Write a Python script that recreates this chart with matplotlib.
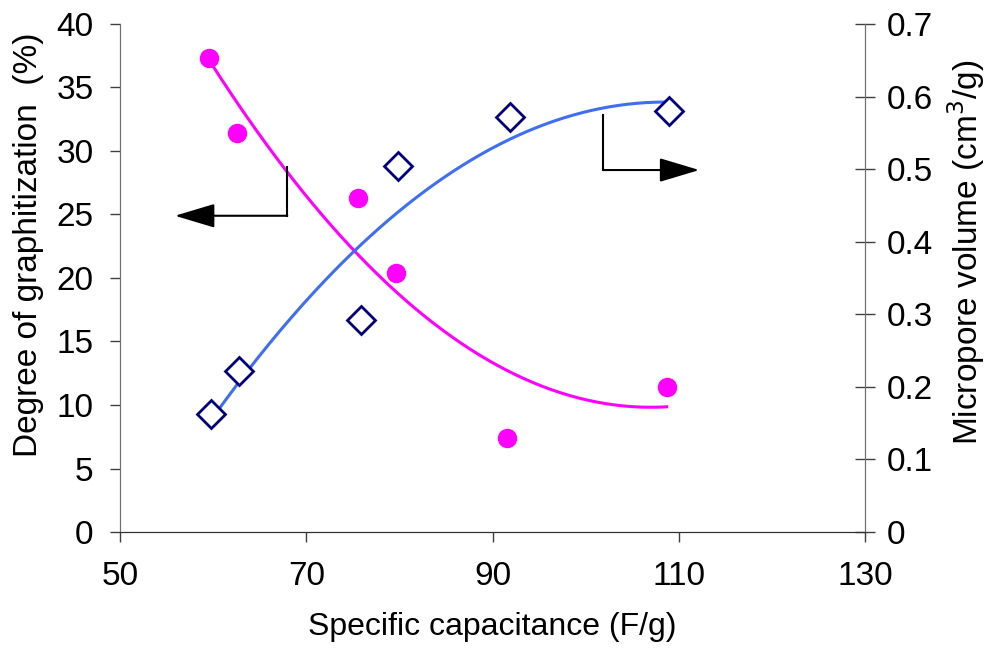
import numpy as np
from matplotlib import pyplot as plt

plt.rcParams['font.family'] = ['Liberation Sans', 'DejaVu Sans']

# degree of graphitization (left axis)
cap_g = [59.6, 62.6, 75.6, 79.6, 91.6, 108.7]
graphit = [37.3, 31.4, 26.3, 20.4, 7.4, 11.4]

# micropore volume (right axis)
cap_v = [59.8, 62.8, 75.9, 79.9, 91.9, 109.0]
micro = [0.163, 0.222, 0.292, 0.504, 0.572, 0.580]

x_ticks = [50, 70, 90, 110, 130]
yl_ticks = [0, 5, 10, 15, 20, 25, 30, 35, 40]
yr_ticks = [0, 0.1, 0.2, 0.3, 0.4, 0.5, 0.6, 0.7]

fig = plt.figure(figsize=(9.87, 6.48), dpi=100)
ax = fig.add_axes([0.1216, 0.179, 0.7548, 0.784])
ax2 = ax.twinx()

# 2nd order polynomial trendlines
p1 = np.polyfit(cap_g, graphit, 2)
xx1 = np.linspace(min(cap_g), max(cap_g), 200)
ax.plot(xx1, np.polyval(p1, xx1), color='#FF00FF', lw=2.2, zorder=2)
ax.plot(cap_g, graphit, 'o', color='#FF00FF', ms=13, zorder=3)

p2 = np.polyfit(cap_v, micro, 2)
xx2 = np.linspace(min(cap_v), max(cap_v), 200)
ax2.plot(xx2, np.polyval(p2, xx2), color='#3F6FF0', lw=2.2, zorder=2)
ax2.plot(cap_v, micro, 'D', mfc='white', mec='#000080', mew=2, ms=14, zorder=3)

ax.set_xlim(50, 130)
ax.set_ylim(0, 40)
ax2.set_ylim(0, 0.7)
ax.set_xticks(x_ticks)
ax.set_yticks(yl_ticks)
ax2.set_yticks(yr_ticks)
ax2.set_yticklabels(['0', '0.1', '0.2', '0.3', '0.4', '0.5', '0.6', '0.7'])

for a in (ax, ax2):
    a.spines['top'].set_visible(False)
    a.spines['left'].set_color('#707070')
    a.spines['right'].set_color('#707070')
    a.spines['bottom'].set_color('#303030')
ax.tick_params(axis='both', labelsize=24, direction='out', length=7, width=1, color='#404040')
ax.tick_params(axis='y', pad=12)
ax.tick_params(axis='x', pad=14)
ax2.tick_params(axis='y', labelsize=24, direction='inout', length=14, width=1, color='#404040', pad=9)

ax.set_xlabel('Specific capacitance (F/g)', fontsize=23, labelpad=14)
ax.set_ylabel('Degree of graphitization  (%)', fontsize=24)
ax2.set_ylabel('Micropore volume (cm$^3$/g)', fontsize=24)
ax.yaxis.set_label_coords(-0.102, 0.565)
ax2.yaxis.set_label_coords(1.107, 0.55)

# arrows pointing to the axes
arrow_style = '-|>,head_length=2.5,head_width=0.75'
ax.plot([67.96, 67.96], [28.7, 24.9], color='black', lw=1.5)
ax.annotate('', xy=(55.9, 24.9), xytext=(67.96, 24.9),
            arrowprops=dict(arrowstyle=arrow_style, color='black', lw=1.5, shrinkA=0, shrinkB=0))
ax.plot([101.9, 101.9], [32.8, 28.5], color='black', lw=1.5)
ax.annotate('', xy=(112.2, 28.5), xytext=(101.9, 28.5),
            arrowprops=dict(arrowstyle=arrow_style, color='black', lw=1.5, shrinkA=0, shrinkB=0))

fig.savefig('out.png', dpi=100)
